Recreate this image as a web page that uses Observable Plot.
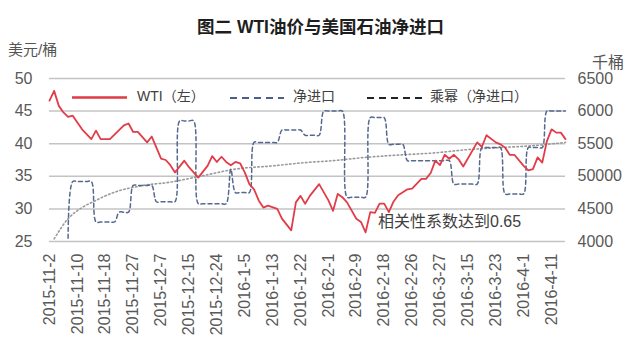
<!DOCTYPE html>
<html><head><meta charset="utf-8">
<script src="https://cdn.jsdelivr.net/npm/d3@7"></script>
<script src="https://cdn.jsdelivr.net/npm/@observablehq/plot@0.6"></script>
<style>
body{margin:0;background:#fff;}
#wrap{position:relative;width:641px;height:358px;font-family:"Liberation Sans","Noto Sans CJK SC",sans-serif;color:#595959;overflow:hidden;}
.abs{position:absolute;white-space:nowrap;line-height:1;}
#chart{position:absolute;left:0;top:0;}
</style></head><body>
<div id="wrap">
  <div id="chart"></div>
  <div class="abs" style="left:0;width:641px;text-align:center;top:19px;font-size:17.5px;font-weight:bold;color:#1e1e1e;">图二 WTI油价与美国石油净进口</div>
  <div class="abs" style="left:8px;top:42px;font-size:15px;color:#555;">美元/桶</div>
  <div class="abs" style="left:592px;top:55px;font-size:16px;color:#555;">千桶</div>
  <div class="abs" style="left:378px;top:214px;font-size:16px;color:#404040;">相关性系数达到0.65</div>
  <svg class="abs" style="left:0;top:0;" width="641" height="358">
    <line x1="72" x2="127" y1="97.5" y2="97.5" stroke="#e03a45" stroke-width="2.5"/>
    <line x1="230" x2="284" y1="98" y2="98" stroke="#4a5f8a" stroke-width="2" stroke-dasharray="7,5"/>
    <line x1="367" x2="422" y1="98" y2="98" stroke="#222" stroke-width="2" stroke-dasharray="7,5"/>
  </svg>
  <div class="abs" style="left:137px;top:89px;font-size:14px;color:#404040;">WTI（左）</div>
  <div class="abs" style="left:293px;top:89px;font-size:14px;color:#404040;">净进口</div>
  <div class="abs" style="left:430px;top:89px;font-size:14px;color:#404040;">乘幂（净进口）</div>
</div>
<script>
// X tick labels (every 6 trading days)
const xLabels = ["2015-11-2","2015-11-10","2015-11-18","2015-11-27","2015-12-7","2015-12-15","2015-12-24","2016-1-5","2016-1-13","2016-1-22","2016-2-1","2016-2-9","2016-2-18","2016-2-26","2016-3-27","2016-3-15","2016-3-23","2016-4-1","2016-4-11"];
const leftTicks = [25,30,35,40,45,50];
const rightLabels = ["4000","4500","50000","5500","6000","6500"];

// WTI (USD/bbl), trading-day index and value
const wtiIdx = [0,1,2,3,4,5,7,9,10,11,13,16,17,18,19,21,22,24,25,26,27,29,30,32,34,35,36,37,38,39,40,41,42,43,44,45,46,47,49,50,52,53,54,55,56,58,60,61,62,63,64,66,67,68,69,70,71,72,73,74,75,77,78,80,81,82,83,84,85,86,87,88,89,92,93,94,96,97,98,99,100,102,103,104,105,106,107,108,109,110,111];
const wtiVal = [46.6,48.1,45.8,44.8,44.1,44.3,42.2,40.7,42.0,40.7,40.7,42.8,43.1,41.8,41.8,40.2,41.1,37.7,37.5,36.7,35.6,37.4,36.4,34.8,36.6,38.1,37.2,38.0,37.2,36.7,37.2,37.0,35.6,33.8,33.0,31.3,30.2,30.5,30.0,28.5,26.7,31.0,32.0,30.8,32.0,33.8,31.3,29.7,32.3,31.8,31.0,28.5,28.0,26.4,29.5,29.4,30.8,30.8,29.5,31.1,32.1,33.0,33.1,34.6,34.6,35.5,37.4,36.7,38.3,37.7,38.3,37.6,36.5,40.2,39.5,41.3,40.2,39.9,39.4,38.3,38.3,36.6,35.9,36.1,37.9,37.1,40.4,42.2,41.7,41.7,40.7];

// US net crude imports (thousand bbl/day), weekly values with first/last trading-day index
const impStart = [4,5,10,15,18,23,28,32,39,40,44,50,55,59,64,69,73,77,87,93,98,103,107];
const impEnd   = [4,9,14,17,22,27,31,38,39,43,49,54,58,63,68,72,76,86,92,97,102,106,111];
const impVal   = [4050,4920,4300,4450,4860,4610,5850,4580,5110,4750,5520,5710,5630,6000,4680,5900,5490,5240,4880,5440,4730,5440,6000];

// Power trendline of net imports, read at sample points
const trendIdx = [1,4,7,10,12,15,18,21,25,33,40,48,55,61,68,76,83,90,97,104,111];
const trendVal = [4040,4350,4520,4630,4700,4780,4830,4870,4900,5010,5110,5160,5210,5240,5290,5330,5360,5410,5440,5470,5520];

const FONT = '"Liberation Sans","Noto Sans CJK SC",sans-serif';
const toLeft = v => 25 + (v - 4000) / 100;

const wti = wtiIdx.map((i, k) => ({i, v: wtiVal[k]}));
const imports = [];
impStart.forEach((s, k) => { for (let i = s; i <= impEnd[k]; i++) imports.push({i, v: impVal[k]}); });
const trend = trendIdx.map((i, k) => ({i, v: trendVal[k]}));
const xTicks = xLabels.map((_, k) => k * 6);

const chart = Plot.plot({
  width: 641, height: 358,
  marginTop: 78, marginBottom: 117, marginLeft: 49, marginRight: 76,
  x: {domain: [0, 111]},
  y: {domain: [25, 50]},
  style: {fontFamily: FONT, color: "#595959", background: "transparent"},
  marks: [
    Plot.gridY(leftTicks, {stroke: "#c4c4c4", strokeOpacity: 1, strokeWidth: 1.5}),
    Plot.axisY(leftTicks, {anchor: "left", tickSize: 0, tickPadding: 17, fontSize: 16, label: null, tickFormat: d => String(d)}),
    Plot.axisY(leftTicks, {anchor: "right", tickSize: 0, tickPadding: 12, fontSize: 16, label: null, tickFormat: d => rightLabels[leftTicks.indexOf(d)]}),
    Plot.axisX(xTicks, {anchor: "bottom", tickSize: 0, tickPadding: 12, tickRotate: -90, fontSize: 16, label: null, tickFormat: d => xLabels[d / 6]}),
    Plot.line(trend, {x: "i", y: d => toLeft(d.v), stroke: "#9a9a9a", strokeWidth: 1.6, strokeDasharray: "1.5,2.5", curve: "monotone-x"}),
    Plot.line(imports, {x: "i", y: d => toLeft(d.v), stroke: "#55698f", strokeWidth: 1.5, strokeDasharray: "4,3", curve: "catmull-rom"}),
    Plot.line(wti, {x: "i", y: "v", stroke: "#e23c48", strokeWidth: 1.8})
  ]
});
document.getElementById("chart").appendChild(chart);
</script>
</body></html>
